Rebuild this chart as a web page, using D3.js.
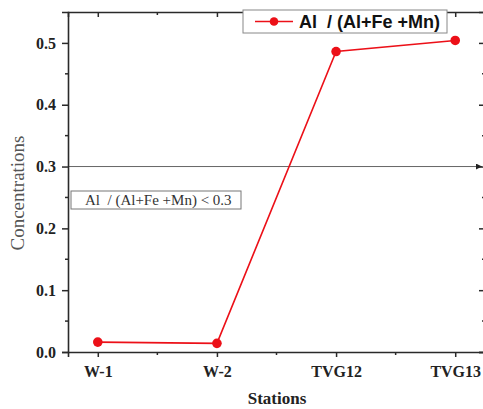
<!DOCTYPE html>
<html>
<head>
<meta charset="utf-8">
<script src="https://cdn.jsdelivr.net/npm/d3@7"></script>
<style>
  html, body { margin: 0; padding: 0; background: #fff; }
  svg { display: block; }
  .pre { white-space: pre; }
</style>
</head>
<body>
<div id="chart"></div>
<script>
// chart data
const stations = ["W-1", "W-2", "TVG12", "TVG13"];
const ratioValues = [0.016, 0.014, 0.486, 0.504];
const yTicks = [0.0, 0.1, 0.2, 0.3, 0.4, 0.5];
const seriesLabel = "Al  / (Al+Fe +Mn)";
const thresholdValue = 0.3;
const thresholdLabel = "Al  / (Al+Fe +Mn) < 0.3";

const W = 483, H = 409;
const margin = { left: 68, top: 12, right: 485, bottom: 352 };
const serif = "'Liberation Serif', 'Times New Roman', serif";
const sans = "'Liberation Sans', Arial, sans-serif";
const red = "#ec1018";
const axisColor = "#2a2a2a";

const svg = d3.select("#chart").append("svg")
    .attr("width", W)
    .attr("height", H);

const x = d3.scalePoint()
    .domain(stations)
    .range([margin.left, margin.right])
    .padding(0.25);

const y = d3.scaleLinear()
    .domain([0, 0.55])
    .range([margin.bottom, margin.top]);

// minor tick positions between stations / between major y ticks
const step = x.step();
const xMinor = stations.slice(0, -1).map(s => x(s) + step / 2);
const yMinor = d3.range(0.05, 0.55, 0.1);

// threshold line with arrow
svg.append("defs").append("marker")
    .attr("id", "arrow")
    .attr("viewBox", "0 0 10 10")
    .attr("refX", 10).attr("refY", 5)
    .attr("markerWidth", 8).attr("markerHeight", 6)
    .attr("markerUnits", "userSpaceOnUse")
    .attr("orient", "auto")
    .append("path")
    .attr("d", "M0,0L10,5L0,10z")
    .attr("fill", "#222");

svg.append("line")
    .attr("x1", margin.left).attr("x2", 482)
    .attr("y1", y(thresholdValue)).attr("y2", y(thresholdValue))
    .attr("stroke", "#666")
    .attr("stroke-width", 1)
    .attr("marker-end", "url(#arrow)");

// axes
const bottomAxis = svg.append("g")
    .attr("transform", `translate(0,${margin.bottom})`)
    .call(d3.axisBottom(x).tickSize(5).tickPadding(9));
bottomAxis.selectAll("text")
    .attr("font-family", serif).attr("font-size", 16).attr("font-weight", "bold")
    .attr("fill", "#222");
bottomAxis.append("g").selectAll("line").data(xMinor).join("line")
    .attr("x1", d => d).attr("x2", d => d)
    .attr("y1", 0).attr("y2", 3);

const leftAxis = svg.append("g")
    .attr("transform", `translate(${margin.left},0)`)
    .call(d3.axisLeft(y).tickValues(yTicks).tickFormat(d3.format(".1f")).tickSize(6).tickPadding(6));
leftAxis.selectAll("text")
    .attr("font-family", serif).attr("font-size", 16).attr("font-weight", "bold")
    .attr("fill", "#222");
leftAxis.append("g").selectAll("line").data(yMinor).join("line")
    .attr("y1", d => y(d)).attr("y2", d => y(d))
    .attr("x1", 0).attr("x2", -3);

const topAxis = svg.append("g")
    .attr("transform", `translate(0,${margin.top})`)
    .call(d3.axisTop(x).tickSize(-5).tickFormat(""));
topAxis.append("g").selectAll("line").data(xMinor).join("line")
    .attr("x1", d => d).attr("x2", d => d)
    .attr("y1", 0).attr("y2", 3);

const rightAxis = svg.append("g")
    .attr("transform", `translate(${margin.right},0)`)
    .call(d3.axisRight(y).tickValues(yTicks).tickSize(-6).tickFormat(""));
rightAxis.append("g").selectAll("line").data(yMinor).join("line")
    .attr("y1", d => y(d)).attr("y2", d => y(d))
    .attr("x1", 0).attr("x2", -3);

svg.selectAll(".domain, .tick line, g g line")
    .attr("stroke", axisColor)
    .attr("stroke-width", 1.5);
svg.selectAll(".domain").attr("stroke-width", 1.6);

// series line + markers
const pts = stations.map((s, i) => [x(s), y(ratioValues[i])]);
svg.append("path")
    .attr("d", d3.line()(pts))
    .attr("fill", "none")
    .attr("stroke", red)
    .attr("stroke-width", 1.6);
svg.selectAll(".pt").data(pts).join("circle")
    .attr("class", "pt")
    .attr("cx", d => d[0]).attr("cy", d => d[1])
    .attr("r", 4.8)
    .attr("fill", red);

// threshold annotation box
const note = svg.append("g");
note.append("rect")
    .attr("x", 71).attr("y", 191)
    .attr("width", 170).attr("height", 18)
    .attr("fill", "#fff")
    .attr("stroke", "#777").attr("stroke-width", 1);
note.append("text")
    .attr("class", "pre")
    .attr("x", 85).attr("y", 205)
    .attr("font-family", serif).attr("font-size", 15)
    .attr("fill", "#333")
    .text(thresholdLabel);

// legend
const legend = svg.append("g");
legend.append("rect")
    .attr("x", 243).attr("y", 10)
    .attr("width", 204).attr("height", 23)
    .attr("fill", "#fff")
    .attr("stroke", "#888").attr("stroke-width", 1);
legend.append("line")
    .attr("x1", 255).attr("x2", 293)
    .attr("y1", 21.5).attr("y2", 21.5)
    .attr("stroke", red).attr("stroke-width", 1.6);
legend.append("circle")
    .attr("cx", 274).attr("cy", 21.5).attr("r", 4.3)
    .attr("fill", red);
legend.append("text")
    .attr("class", "pre")
    .attr("x", 299).attr("y", 28)
    .attr("font-family", sans).attr("font-size", 18).attr("font-weight", "bold")
    .attr("fill", "#111")
    .text(seriesLabel);

// axis titles
svg.append("text")
    .attr("x", 277).attr("y", 404)
    .attr("text-anchor", "middle")
    .attr("font-family", serif).attr("font-size", 17).attr("font-weight", "bold")
    .attr("fill", "#222")
    .text("Stations");

svg.append("text")
    .attr("transform", "translate(24,193) rotate(-90)")
    .attr("text-anchor", "middle")
    .attr("font-family", serif).attr("font-size", 19)
    .attr("fill", "#555")
    .text("Concentrations");
</script>
</body>
</html>
